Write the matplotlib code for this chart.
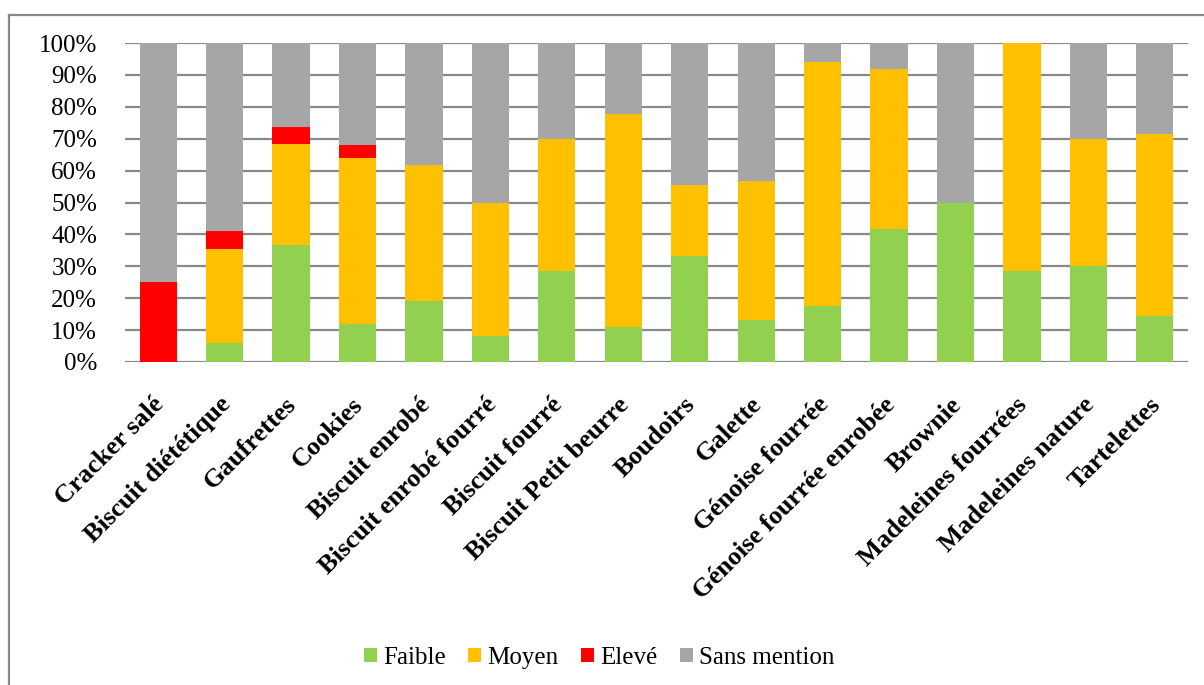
import matplotlib
matplotlib.use("Agg")
import matplotlib.pyplot as plt
from matplotlib.lines import Line2D
from matplotlib.ticker import FixedLocator, FuncFormatter
from matplotlib.transforms import ScaledTranslation
import numpy as np

categories = ["Cracker salé", "Biscuit diététique", "Gaufrettes", "Cookies",
              "Biscuit enrobé", "Biscuit enrobé fourré", "Biscuit fourré",
              "Biscuit Petit beurre", "Boudoirs", "Galette", "Génoise fourrée",
              "Génoise fourrée enrobée", "Brownie", "Madeleines fourrées",
              "Madeleines nature", "Tartelettes"]
faible = [0.0, 5.9, 36.8, 12.0, 19.0, 8.3, 28.5, 11.1, 33.3, 13.3, 17.6, 41.7, 50.0, 28.6, 30.0, 14.3]
moyen = [0.0, 29.4, 31.6, 52.0, 42.9, 41.7, 41.3, 66.7, 22.2, 43.4, 76.5, 50.0, 0.0, 71.4, 40.0, 57.1]
eleve = [25.0, 5.9, 5.3, 4.0, 0.0, 0.0, 0.0, 0.0, 0.0, 0.0, 0.0, 0.0, 0.0, 0.0, 0.0, 0.0]
sans = [100 - f - m - e for f, m, e in zip(faible, moyen, eleve)]
series_names = ["Faible", "Moyen", "Elevé", "Sans mention"]
colors = ["#92D050", "#FFC000", "#FF0000", "#A6A6A6"]
yticks = [0, 10, 20, 30, 40, 50, 60, 70, 80, 90, 100]

FONT = ['Liberation Serif', 'DejaVu Serif']
plt.rcParams['font.family'] = 'serif'
plt.rcParams['font.serif'] = ['Liberation Serif', 'DejaVu Serif']

fig = plt.figure(figsize=(12.04, 6.85), dpi=100)
W, H = 1204, 685
ax = fig.add_axes([125 / W, 1 - 362 / H, (1188 - 125) / W, (362 - 43) / H])

x = np.arange(len(categories))
bottom = np.zeros(len(categories))
for name, vals, c in zip(series_names, [faible, moyen, eleve, sans], colors):
    v = np.array(vals)
    ax.bar(x, v, width=0.56, bottom=bottom, color=c, label=name, zorder=3, linewidth=0)
    bottom += v

ax.set_xlim(-0.5, len(categories) - 0.5)
ax.set_ylim(0, 100)
ax.yaxis.set_major_locator(FixedLocator(yticks))
ax.yaxis.set_major_formatter(FuncFormatter(lambda v, p: f"{int(v)}%"))
ax.grid(axis='y', color='#898989', linewidth=1.6, zorder=0)
ax.set_axisbelow(True)
for s in ax.spines.values():
    s.set_visible(False)
ax.tick_params(axis='y', length=0, pad=20)
for lbl in ax.get_yticklabels():
    lbl.set_fontfamily(FONT)
    lbl.set_fontsize(18)
ax.set_xticks(x)
ax.set_xticklabels([])
ax.tick_params(axis='x', length=0)

offset = ScaledTranslation(2 / 100, -39 / 100, fig.dpi_scale_trans)
for xi, name in zip(x, categories):
    ax.text(xi, 0, name, transform=ax.get_xaxis_transform() + offset,
            rotation=45, rotation_mode='anchor', ha='right', va='center',
            fontsize=19, fontweight='bold', family=FONT)

handles, labels = ax.get_legend_handles_labels()
fig.legend(handles, labels, loc='center', bbox_to_anchor=(599 / W, 1 - 658 / H),
           ncol=4, frameon=False, prop={'family': FONT, 'size': 18},
           handlelength=0.52, handleheight=0.52, handletextpad=0.25, columnspacing=0.9)

# outer frame
fig.add_artist(Line2D([8.5 / W, 8.5 / W], [0, 1 - 15 / H], transform=fig.transFigure,
                      color='#898989', linewidth=1.6))
fig.add_artist(Line2D([8.5 / W, 1], [1 - 15 / H, 1 - 15 / H], transform=fig.transFigure,
                      color='#898989', linewidth=1.6))

fig.savefig("out.png", dpi=100)
